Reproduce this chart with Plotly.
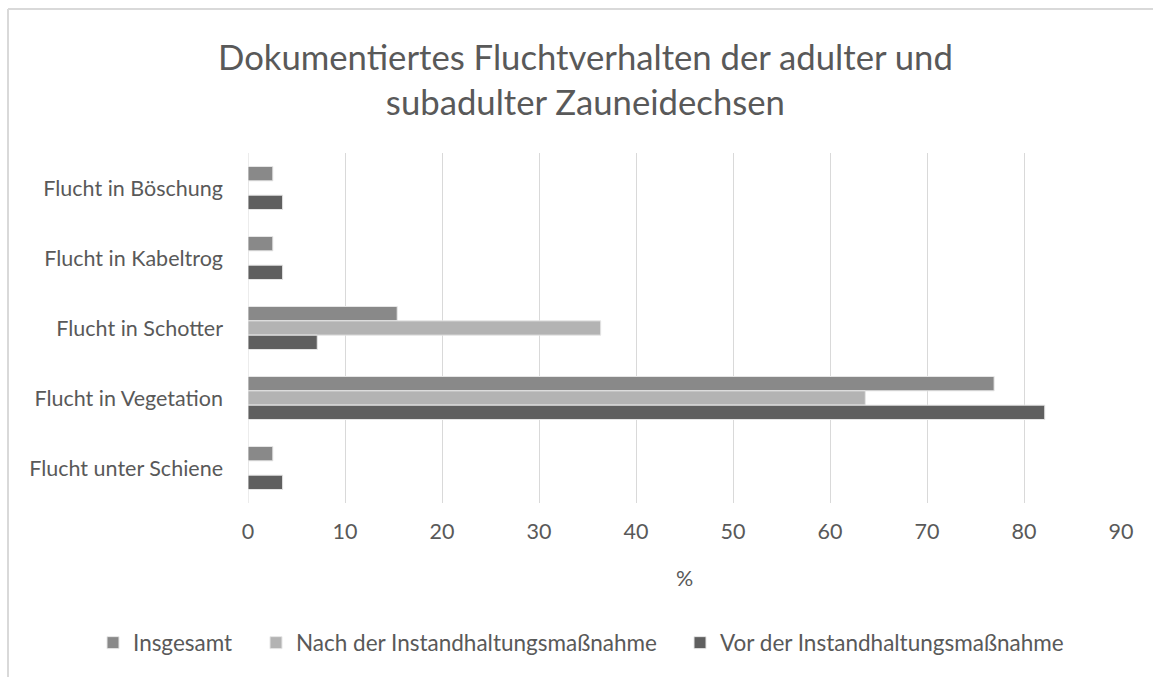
import plotly.graph_objects as go

categories = ["Flucht in Böschung", "Flucht in Kabeltrog", "Flucht in Schotter",
              "Flucht in Vegetation", "Flucht unter Schiene"]
insgesamt = [2.56, 2.56, 15.38, 76.92, 2.56]
nach = [0, 0, 36.36, 63.64, 0]
vor = [3.57, 3.57, 7.14, 82.14, 3.57]
series_names = ["Insgesamt", "Nach der Instandhaltungsmaßnahme", "Vor der Instandhaltungsmaßnahme"]
colors = ["#898989", "#b3b3b3", "#5f5f5f"]
x_ticks = [0, 10, 20, 30, 40, 50, 60, 70, 80, 90]

FONT = "Lato, Open Sans, sans-serif"
TXT = "#595959"

L, R, T, B = 248, 32, 153, 174
W, H = 1153, 677
pw = W - L - R
ph = H - T - B

def px(x):
    return (x - L) / pw

def py(y):
    return (H - B - y) / ph

legend_ids = ["legend", "legend2", "legend3"]
legend_text_x = [133, 296, 720]

fig = go.Figure()
for name, vals, c, lid in zip(series_names, [insgesamt, nach, vor], colors, legend_ids):
    fig.add_trace(go.Bar(
        y=categories, x=vals, name=name, orientation="h", legend=lid,
        marker=dict(color=c, line=dict(color="#e6e6e6", width=1)),
    ))

legend_layouts = {}
for lid, tx in zip(legend_ids, legend_text_x):
    legend_layouts[lid] = dict(orientation="h", x=px(tx - 40), xanchor="left",
                               y=py(643), yanchor="middle",
                               font=dict(size=22.5, color=TXT), bgcolor="rgba(0,0,0,0)")

fig.update_layout(
    width=W, height=H,
    margin=dict(l=L, r=R, t=T, b=B, pad=0),
    paper_bgcolor="white", plot_bgcolor="white",
    barmode="group", bargap=0.386, bargroupgap=0,
    font=dict(family=FONT, color=TXT, size=21.5),
    showlegend=True,
    **legend_layouts,
    xaxis=dict(range=[0, 90], tickvals=x_ticks, showgrid=True, gridcolor="#d9d9d9",
               gridwidth=1, zeroline=False, showline=False, ticks="",
               tickfont=dict(size=21.5, color=TXT), ticklabelstandoff=13,
               title=dict(text="%", font=dict(size=21.5, color=TXT), standoff=28)),
    yaxis=dict(autorange="reversed", showgrid=False, zeroline=False, showline=False,
               ticks="", tickfont=dict(size=21.5, color=TXT), ticklabelstandoff=24),
    shapes=[
        dict(type="line", xref="x", yref="paper", x0=0, x1=0, y0=0, y1=1,
             line=dict(color="#d9d9d9", width=1), layer="below"),
        dict(type="line", xref="paper", yref="paper", x0=px(8), x1=px(1160),
             y0=py(9), y1=py(9), line=dict(color="#d9d9d9", width=2)),
        dict(type="line", xref="paper", yref="paper", x0=px(8), x1=px(8),
             y0=py(9), y1=py(680), line=dict(color="#d9d9d9", width=2)),
    ],
    annotations=[
        dict(text="Dokumentiertes Fluchtverhalten der adulter und<br>subadulter Zauneidechsen",
             xref="paper", yref="paper", x=px(585), y=py(79), xanchor="center", yanchor="middle",
             showarrow=False, font=dict(size=34.7, color=TXT, family=FONT), align="center"),
    ],
)

fig.write_html("out.html", config={"displayModeBar": False},
               post_script="document.body.style.margin='0';")
